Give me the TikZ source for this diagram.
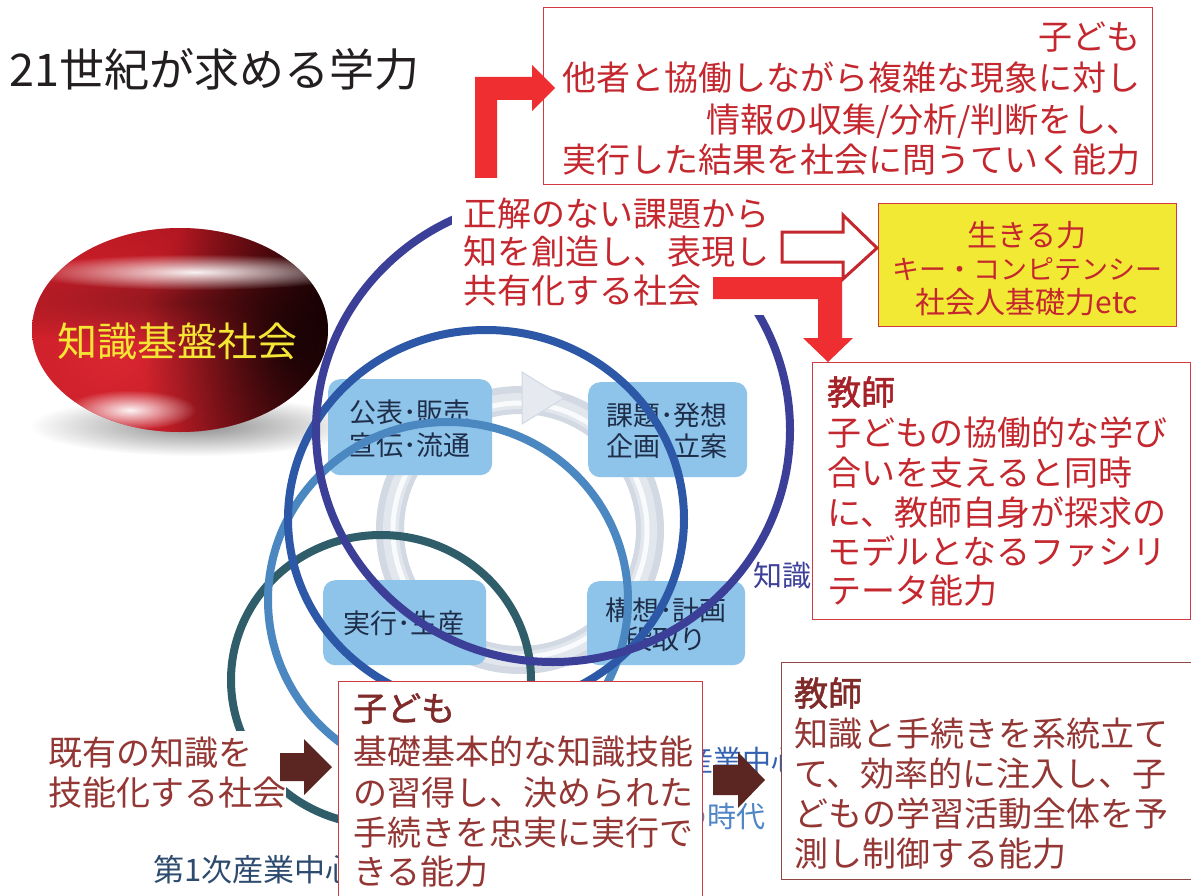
\documentclass[tikz,border=0pt]{standalone}
\usepackage{fontspec}
\newfontfamily\jp{Noto Sans CJK JP}
\newfontfamily\jpbold{Noto Sans CJK JP}[FakeBold=1.6]
\usetikzlibrary{fadings}
\newcommand\jpsize[1]{\fontsize{#1}{#1}\selectfont}

\definecolor{titleblack}{HTML}{231F20}
\definecolor{blobyellow}{HTML}{F4E634}
\definecolor{blobL}{HTML}{B8141F}
\definecolor{blobM}{HTML}{A0101A}
\definecolor{blobR}{HTML}{2A0204}
\definecolor{blobBright}{HTML}{E02A34}
\definecolor{tred}{HTML}{C4272E}
\definecolor{tredDark}{HTML}{A62128}
\definecolor{boxRed}{HTML}{D03A40}
\definecolor{maroon}{HTML}{933634}
\definecolor{maroonDark}{HTML}{7F2B2A}
\definecolor{maroonBorder}{HTML}{8E4845}
\definecolor{brownArrow}{HTML}{5B2522}
\definecolor{arrowRed}{HTML}{EE2E31}
\definecolor{yellowFill}{HTML}{F2E935}
\definecolor{indigo}{HTML}{3C3F98}
\definecolor{midblue}{HTML}{2C58A7}
\definecolor{lightblue}{HTML}{4B87C1}
\definecolor{tealring}{HTML}{2F5E6A}
\definecolor{boxblue}{HTML}{8EC4E9}
\definecolor{boxtext}{HTML}{1E2D4A}
\definecolor{navy}{HTML}{2D4B6F}
\definecolor{indBlue}{HTML}{3562B0}
\definecolor{indBlueLight}{HTML}{4F86C6}
\definecolor{knowBlue}{HTML}{3D4099}
\definecolor{ringEdge}{HTML}{D2D9E3}
\definecolor{ringMid}{HTML}{E2E7EE}
\definecolor{tipFill}{HTML}{E6EAF0}

% soft spot: opaque centre, fully transparent at half the path radius
\tikzfading[name=softspot, inner color=transparent!0, outer color=transparent!100]

\begin{document}
\begin{tikzpicture}[x=1pt,y=-1pt,
  ln/.style={inner sep=0, anchor=base west},
  lnc/.style={inner sep=0, anchor=base},
  lne/.style={inner sep=0, anchor=base east},
  redtxt/.style={ln, font=\jp\jpsize{34}, text=tred},
  redhead/.style={ln, font=\jpbold\jpsize{34}, text=tredDark},
  martxt/.style={ln, font=\jp\jpsize{34}, text=maroon},
  marhead/.style={ln, font=\jpbold\jpsize{34}, text=maroonDark},
  boxlbl/.style={lnc, font=\jp\jpsize{27}, text=boxtext},
  stagebox/.style={fill=boxblue, rounded corners=12pt, inner sep=0, anchor=north west},
  framebox/.style={draw=boxRed, line width=1.4pt, fill=white, inner sep=0, anchor=north west},
  ringline/.style={line width=8pt},
  blockred/.style={fill=arrowRed},
  blockbrown/.style={fill=brownArrow},
  soft/.style={path fading=softspot}
]
\useasboundingbox (0,0) rectangle (1191,896);
\fill[white] (0,0) rectangle (1191,896);

% ---- red cushion: knowledge-based society ----
\fill[black!45, soft] (195,426) ellipse [x radius=165, y radius=30];
\shade[left color=blobL, right color=blobR, middle color=blobM] (180,330) ellipse [x radius=148, y radius=102];
\begin{scope}
  \clip (180,330) ellipse [x radius=148, y radius=102];
  \fill[blobBright, opacity=.9, soft] (115,355) ellipse [x radius=240, y radius=200];
  \fill[black, opacity=.3, soft] (190,302) ellipse [x radius=240, y radius=44];
  \fill[black, opacity=.75, soft] (292,345) ellipse [x radius=150, y radius=170];
  \fill[white, opacity=.95, soft] (195,272) ellipse [x radius=170, y radius=18];
  \fill[white, opacity=.95, soft] (130,410) ellipse [x radius=66, y radius=20];
\end{scope}
\node[lnc, font=\jp\jpsize{40}, text=blobyellow] (blobLabel) at (177,356) {知識基盤社会};

% ---- work cycle ring ----
\draw[line width=28pt, ringEdge] (520,530) circle [radius=130];
\draw[line width=16pt, ringMid] (520,530) circle [radius=129];
\draw[line width=5pt, white, opacity=.8] (520,530) circle [radius=127];
\filldraw[fill=tipFill, draw=ringEdge, line width=1pt] (522,372) -- (564,398) -- (522,424) -- cycle;

% ---- four stage boxes ----
\node[stagebox, minimum width=164pt, minimum height=96pt] (stPub) at (328,379) {};
\node[boxlbl] (stPubA) at (410,422) {公表･販売};
\node[boxlbl] (stPubB) at (410,455) {宣伝･流通};
\node[stagebox, minimum width=159pt, minimum height=95pt] (stIdea) at (588,382) {};
\node[boxlbl] (stIdeaA) at (667,425) {課題･発想};
\node[boxlbl] (stIdeaB) at (667,456) {企画･立案};
\node[stagebox, minimum width=163pt, minimum height=85pt] (stRun) at (323,580) {};
\node[boxlbl] (stRunA) at (404,633) {実行･生産};
\node[stagebox, minimum width=158pt, minimum height=84pt] (stPlan) at (587,581) {};
\node[boxlbl] (stPlanA) at (666,620) {構想･計画};
\node[boxlbl] (stPlanB) at (666,649) {段取り};

% ---- society rings ----
\draw[ringline, tealring] (381,680) ellipse [x radius=150, y radius=145];
\draw[ringline, lightblue] (448,600) ellipse [x radius=180, y radius=178];
\draw[ringline, midblue] (486,519) ellipse [x radius=198, y radius=189];
\draw[ringline, indigo] (553,430) ellipse [x radius=237, y radius=232];

% ---- era labels ----
\node[ln, font=\jp\jpsize{29}, text=knowBlue] (eraKnow) at (753,586) {知識};
\node[ln, font=\jp\jpsize{29}, text=indBlue] (eraTwoA) at (684,771) {産業中心};
\node[ln, font=\jp\jpsize{29}, text=indBlueLight] (eraTwoB) at (678,827) {の時代};
\node[ln, font=\jp\jpsize{31}, text=navy] (eraOne) at (153,881) {第1次産業中心};

% ---- society descriptions ----
\node[fill=white, inner sep=0, anchor=north west, minimum width=322pt, minimum height=122pt] (socNewBg) at (452,193) {};
\node[redtxt] (socNew1) at (463,226) {正解のない課題から};
\node[redtxt] (socNew2) at (463,264) {知を創造し、表現し};
\node[redtxt] (socNew3) at (463,303) {共有化する社会};

\node[fill=white, inner sep=0, anchor=north west, minimum width=246pt, minimum height=84pt] (socOldBg) at (40,731) {};
\node[martxt] (socOld1) at (48,765) {既有の知識を};
\node[martxt] (socOld2) at (48,805) {技能化する社会};

% ---- ability boxes ----
\node[framebox, minimum width=609pt, minimum height=177pt] (childTop) at (543,7) {};
\node[lne, font=\jp\jpsize{34}, text=tred] (childTop0) at (1141,50) {子ども};
\node[lne, font=\jp\jpsize{34}, text=tred] (childTop1) at (1141,91) {他者と協働しながら複雑な現象に対し};
\node[lne, font=\jp\jpsize{34}, text=tred] (childTop2) at (1141,133) {情報の収集/分析/判断をし、};
\node[lne, font=\jp\jpsize{34}, text=tred] (childTop3) at (1141,173) {実行した結果を社会に問うていく能力};

\node[framebox, fill=yellowFill, minimum width=298pt, minimum height=123pt] (lifeBox) at (878,203) {};
\node[lnc, font=\jp\jpsize{30}, text=tred] (life1) at (1027,246) {生きる力};
\node[lnc, font=\jp\jpsize{27}, text=tred] (life2) at (1027,279) {キー・コンピテンシー};
\node[lnc, font=\jp\jpsize{30}, text=tred] (life3) at (1027,313) {社会人基礎力etc};

\node[framebox, minimum width=378pt, minimum height=257pt] (teachTop) at (812,362) {};
\node[redhead] (teachTop0) at (827,405) {教師};
\node[redtxt] (teachTop1) at (827,445) {子どもの協働的な学び};
\node[redtxt] (teachTop2) at (827,485) {合いを支えると同時};
\node[redtxt] (teachTop3) at (827,525) {に、教師自身が探求の};
\node[redtxt] (teachTop4) at (827,564) {モデルとなるファシリ};
\node[redtxt] (teachTop5) at (827,603) {テータ能力};

\node[framebox, minimum width=364pt, minimum height=240pt] (childLow) at (338,681) {};
\node[marhead] (childLow0) at (353,721) {子ども};
\node[martxt] (childLow1) at (353,764) {基礎基本的な知識技能};
\node[martxt] (childLow2) at (353,805) {の習得し、決められた};
\node[martxt] (childLow3) at (353,845) {手続きを忠実に実行で};
\node[martxt] (childLow4) at (353,884) {きる能力};

\node[framebox, draw=maroonBorder, minimum width=430pt, minimum height=217pt] (teachLow) at (781,662) {};
\node[marhead] (teachLow0) at (794,706) {教師};
\node[martxt] (teachLow1) at (794,746) {知識と手続きを系統立て};
\node[martxt] (teachLow2) at (794,786) {て、効率的に注入し、子};
\node[martxt] (teachLow3) at (794,826) {どもの学習活動全体を予};
\node[martxt] (teachLow4) at (794,866) {測し制御する能力};

% ---- block arrows ----
\fill[blockred] (475,178) -- (475,77) -- (532,77) -- (532,65) -- (555,88) -- (532,111) -- (532,100) -- (497,100) -- (497,178) -- cycle;
\fill[blockred] (713,277) -- (842,277) -- (842,338) -- (853,338) -- (828,362) -- (803,338) -- (818,338) -- (818,299) -- (713,299) -- cycle;
\filldraw[fill=white, draw=tred, line width=3pt, line join=miter] (782,232) -- (843,232) -- (843,215) -- (877,248) -- (843,279) -- (843,262) -- (782,262) -- cycle;
\fill[blockbrown] (280,753) -- (304,753) -- (304,739) -- (332,767) -- (304,795) -- (304,781) -- (280,781) -- cycle;
\fill[blockbrown] (713,765) -- (738,765) -- (738,752) -- (765,780) -- (738,808) -- (738,795) -- (713,795) -- cycle;

% ---- heading ----
\node[ln, font=\jp\jpsize{45}, text=titleblack] (title) at (9,87) {21世紀が求める学力};
\end{tikzpicture}
\end{document}
